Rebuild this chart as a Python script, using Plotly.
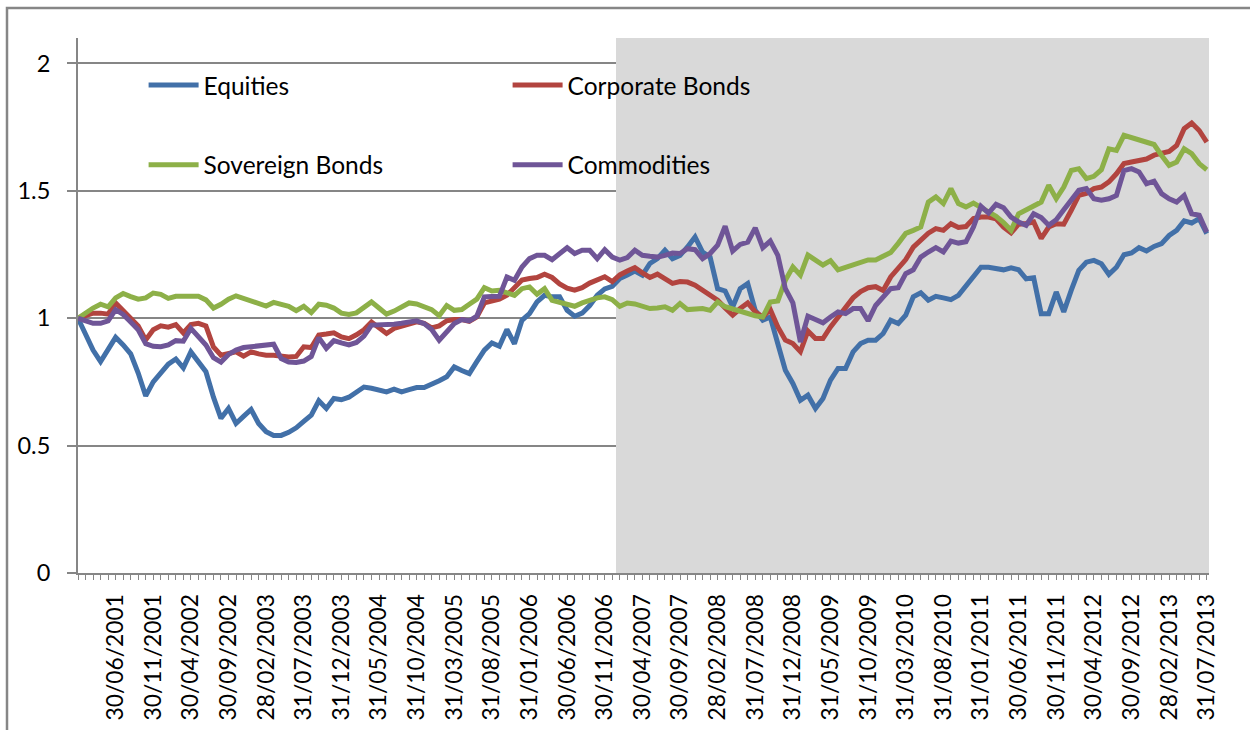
import plotly.graph_objects as go

# Monthly observations, 31/01/2001 .. 31/07/2013 (151 months); labels every 5th month
tick_labels = [
    "30/06/2001", "30/11/2001", "30/04/2002", "30/09/2002", "28/02/2003",
    "31/07/2003", "31/12/2003", "31/05/2004", "31/10/2004", "31/03/2005",
    "31/08/2005", "31/01/2006", "30/06/2006", "30/11/2006", "30/04/2007",
    "30/09/2007", "28/02/2008", "31/07/2008", "31/12/2008", "31/05/2009",
    "31/10/2009", "31/03/2010", "31/08/2010", "31/01/2011", "30/06/2011",
    "30/11/2011", "30/04/2012", "30/09/2012", "28/02/2013", "31/07/2013",
]

equities = [
    1.00, 0.94, 0.875, 0.83, 0.88, 0.925, 0.895, 0.86, 0.785, 0.695,
    0.75, 0.785, 0.82, 0.84, 0.805, 0.868, 0.83, 0.79, 0.69, 0.607,
    0.646, 0.587, 0.615, 0.642, 0.587, 0.555, 0.54, 0.54, 0.552, 0.57,
    0.595, 0.62, 0.676, 0.646, 0.685, 0.68, 0.69, 0.71, 0.73, 0.725,
    0.72, 0.711, 0.722, 0.711, 0.72, 0.728, 0.728, 0.74, 0.755, 0.77,
    0.809, 0.795, 0.783, 0.83, 0.875, 0.903, 0.89, 0.956, 0.90, 0.992,
    1.018, 1.064, 1.09, 1.084, 1.084, 1.031, 1.008, 1.02, 1.05, 1.09,
    1.115, 1.125, 1.156, 1.17, 1.185, 1.169, 1.215, 1.234, 1.267, 1.234,
    1.247, 1.28, 1.319, 1.26, 1.24, 1.116, 1.107, 1.044, 1.116, 1.136,
    1.031, 0.992, 1.005, 0.90, 0.796, 0.744, 0.678, 0.698, 0.646, 0.685,
    0.757, 0.803, 0.803, 0.868, 0.901, 0.914, 0.914, 0.94, 0.992, 0.979,
    1.012, 1.084, 1.10, 1.071, 1.086, 1.08, 1.073, 1.09, 1.126, 1.16,
    1.20, 1.20, 1.195, 1.19, 1.198, 1.19, 1.155, 1.159, 1.018, 1.018,
    1.103, 1.025, 1.11, 1.188, 1.22, 1.227, 1.214, 1.172, 1.20, 1.249,
    1.256, 1.277, 1.264, 1.282, 1.293, 1.325, 1.345, 1.382, 1.374, 1.391,
    1.332,
]

corporate_bonds = [
    1.00, 1.01, 1.02, 1.02, 1.016, 1.06, 1.03, 1.0, 0.97, 0.915,
    0.955, 0.97, 0.965, 0.975, 0.942, 0.975, 0.98, 0.97, 0.887, 0.855,
    0.862, 0.868, 0.851, 0.868, 0.86, 0.855, 0.855, 0.85, 0.848, 0.85,
    0.888, 0.885, 0.934, 0.938, 0.943, 0.927, 0.92, 0.935, 0.955, 0.985,
    0.965, 0.94, 0.96, 0.97, 0.976, 0.986, 0.98, 0.962, 0.97, 0.99,
    0.995, 0.995, 0.988, 1.005, 1.06, 1.068, 1.075, 1.09, 1.12, 1.15,
    1.156, 1.16, 1.173, 1.16, 1.135, 1.118, 1.11, 1.12, 1.138, 1.152,
    1.163, 1.144, 1.17, 1.185, 1.199, 1.178, 1.16, 1.173, 1.156, 1.137,
    1.144, 1.142, 1.13, 1.11, 1.09, 1.071, 1.04, 1.012, 1.038, 1.06,
    1.025, 1.005, 1.034, 0.966, 0.914, 0.901, 0.869, 0.95, 0.92, 0.92,
    0.966, 1.005, 1.04, 1.08, 1.105, 1.12, 1.124, 1.109, 1.162, 1.20,
    1.23, 1.279, 1.31, 1.334, 1.352, 1.345, 1.371, 1.356, 1.36, 1.391,
    1.397, 1.397, 1.39, 1.358, 1.335, 1.369, 1.372, 1.378, 1.313, 1.358,
    1.371, 1.369, 1.424, 1.482, 1.49, 1.509, 1.515, 1.535, 1.567, 1.607,
    1.613, 1.617, 1.625, 1.64, 1.648, 1.655, 1.678, 1.744, 1.766, 1.737,
    1.691,
]

sovereign_bonds = [
    1.0, 1.022, 1.04, 1.055, 1.045, 1.08, 1.097, 1.085, 1.075, 1.08,
    1.099, 1.094, 1.078, 1.086, 1.086, 1.086, 1.086, 1.072, 1.04, 1.055,
    1.075, 1.088, 1.078, 1.072, 1.06, 1.048, 1.062, 1.056, 1.047, 1.03,
    1.047, 1.022, 1.055, 1.051, 1.04, 1.02, 1.015, 1.021, 1.04, 1.064,
    1.04, 1.016, 1.028, 1.045, 1.06, 1.056, 1.045, 1.034, 1.01, 1.05,
    1.031, 1.034, 1.055, 1.075, 1.12, 1.107, 1.11, 1.1, 1.09, 1.116,
    1.123, 1.094, 1.116, 1.07, 1.062, 1.055, 1.047, 1.06, 1.07, 1.08,
    1.084, 1.073, 1.047, 1.06, 1.056, 1.045, 1.038, 1.04, 1.045, 1.031,
    1.058, 1.034, 1.036, 1.038, 1.031, 1.064, 1.045, 1.035, 1.025, 1.016,
    1.01, 1.005, 1.064, 1.068, 1.149, 1.201, 1.169, 1.248, 1.228, 1.209,
    1.226, 1.19, 1.2, 1.209, 1.218, 1.229, 1.229, 1.242, 1.258, 1.294,
    1.333, 1.345, 1.358, 1.456, 1.476, 1.45, 1.509, 1.45, 1.437, 1.452,
    1.434, 1.417, 1.40, 1.375, 1.345, 1.41, 1.424, 1.44, 1.456, 1.522,
    1.469, 1.515, 1.58, 1.587, 1.548, 1.557, 1.583, 1.665, 1.659, 1.718,
    1.71, 1.70, 1.691, 1.682, 1.639, 1.60, 1.613, 1.665, 1.646, 1.607,
    1.583,
]

commodities = [
    1.0, 0.99, 0.98, 0.98, 0.99, 1.034, 1.015, 0.985, 0.955, 0.9,
    0.89, 0.888, 0.895, 0.912, 0.91, 0.96, 0.925, 0.895, 0.845, 0.828,
    0.858, 0.875, 0.885, 0.888, 0.89, 0.892, 0.898, 0.842, 0.828, 0.826,
    0.832, 0.85, 0.924, 0.882, 0.912, 0.903, 0.895, 0.905, 0.93, 0.973,
    0.973, 0.973, 0.976, 0.98, 0.985, 0.99, 0.979, 0.956, 0.914, 0.946,
    0.979, 0.995, 0.99, 1.008, 1.084, 1.085, 1.086, 1.162, 1.149, 1.201,
    1.234, 1.247, 1.247, 1.23, 1.254, 1.277, 1.254, 1.267, 1.267, 1.234,
    1.269, 1.24, 1.228, 1.238, 1.267, 1.247, 1.243, 1.24, 1.247, 1.256,
    1.254, 1.273, 1.269, 1.234, 1.254, 1.287, 1.361, 1.264, 1.29, 1.299,
    1.355, 1.277, 1.303, 1.247, 1.116, 1.06, 0.907, 1.008, 0.995, 0.982,
    1.005, 1.025, 1.018, 1.038, 1.038, 0.99, 1.05, 1.08, 1.116, 1.12,
    1.175, 1.19, 1.24, 1.26, 1.277, 1.26, 1.303, 1.295, 1.30, 1.358,
    1.439, 1.413, 1.447, 1.434, 1.397, 1.378, 1.365, 1.41, 1.395, 1.365,
    1.387, 1.426, 1.463, 1.502, 1.509, 1.469, 1.463, 1.469, 1.482, 1.58,
    1.587, 1.574, 1.528, 1.538, 1.489, 1.469, 1.456, 1.482, 1.41, 1.404,
    1.338,
]

# Shaded period: from the 73rd month (31/01/2007) to the end
shade_start_month = 72
shade_level = 2.1

FONT = "Lato"
GREY = "#868686"

n = len(equities)
pos = list(range(n))
shade_x = pos[shade_start_month:]
tick_pos = pos[5::5]

fig = go.Figure()
fig.add_trace(go.Bar(
    x=shade_x, y=[shade_level] * len(shade_x), width=1,
    marker=dict(color="#D9D9D9", line=dict(width=0)),
    showlegend=False, hoverinfo="skip",
))

series = [
    ("Equities", equities, "#4270A8", "legend"),
    ("Corporate Bonds", corporate_bonds, "#B2443F", "legend"),
    ("Sovereign Bonds", sovereign_bonds, "#8DB048", "legend2"),
    ("Commodities", commodities, "#6F5597", "legend2"),
]
for name, vals, color, lg in series:
    fig.add_trace(go.Scatter(
        x=pos, y=vals, mode="lines", name=name,
        line=dict(color=color, width=5),
        legend=lg,
    ))

legend_common = dict(
    orientation="h", xanchor="left", yanchor="middle",
    font=dict(family=FONT, size=24.5, color="black"),
    bgcolor="rgba(0,0,0,0)", entrywidth=299, entrywidthmode="pixels",
    itemwidth=50,
)

fig.update_layout(
    width=1250, height=730,
    margin=dict(l=78, r=41, t=38, b=157),
    paper_bgcolor="white", plot_bgcolor="white",
    font=dict(family=FONT, size=23, color="black"),
    bargap=0,
    legend=dict(x=0.058, y=0.912, **legend_common),
    legend2=dict(x=0.058, y=0.763, **legend_common),
    xaxis=dict(
        range=[0, 150.3],
        automargin=False,
        tickmode="array",
        tickvals=tick_pos,
        ticktext=tick_labels,
        tickangle=-90,
        ticks="outside", ticklen=5, tickwidth=1, tickcolor=GREY,
        showline=True, linecolor=GREY, linewidth=2,
        showgrid=False, zeroline=False,
        minor=dict(ticks="outside", ticklen=5, tickwidth=1, tickcolor=GREY,
                   dtick=1, tick0=0, showgrid=False),
        tickfont=dict(family=FONT, size=22.8, color="black"),
        ticklabelstandoff=5,
    ),
    yaxis=dict(
        range=[0, 2.1],
        automargin=False,
        tickmode="array",
        tickvals=[0, 0.5, 1, 1.5, 2],
        ticktext=["0", "0.5", "1", "1.5", "2"],
        ticks="outside", ticklen=9, tickwidth=1.5, tickcolor=GREY,
        showline=True, linecolor=GREY, linewidth=2,
        showgrid=True, gridcolor=GREY, gridwidth=1.5,
        zeroline=False,
        tickfont=dict(family=FONT, size=23.5, color="black"),
        ticklabelstandoff=12,
    ),
    shapes=[dict(
        type="rect", xref="paper", yref="paper",
        x0=(7 - 78) / 1131, x1=1.2, y0=-0.6, y1=1 + 30 / 535,
        line=dict(color=GREY, width=2.5), fillcolor="rgba(0,0,0,0)",
        layer="below",
    )],
)

fig.write_html("out.html")
